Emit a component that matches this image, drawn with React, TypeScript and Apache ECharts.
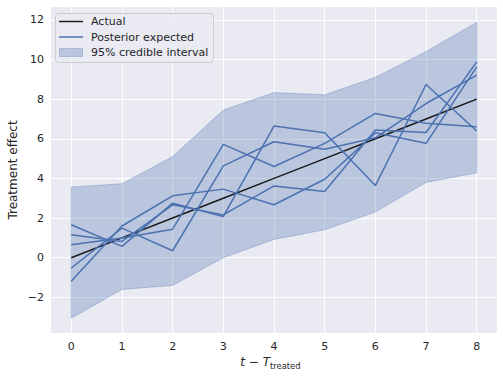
import React, { useEffect, useRef } from "react";
import * as echarts from "echarts";

const xValues = [0, 1, 2, 3, 4, 5, 6, 7, 8];
const actual = [0, 1, 2, 3, 4, 5, 6, 7, 8];
const posteriorA = [-1.19, 1.6, 3.12, 3.46, 2.67, 3.96, 6.3, 5.77, 9.63];
const posteriorB = [-0.52, 1.49, 0.35, 4.63, 5.85, 5.47, 6.05, 7.78, 9.21];
const posteriorC = [1.66, 0.57, 2.75, 2.08, 6.64, 6.31, 3.64, 8.74, 6.39];
const posteriorD = [1.16, 0.82, 2.67, 2.16, 3.62, 3.34, 6.44, 6.32, 9.88];
const posteriorE = [0.65, 0.99, 1.44, 5.72, 4.6, 5.77, 7.28, 6.78, 6.61];
const bandLower = [-3.05, -1.6, -1.4, 0.0, 0.92, 1.41, 2.3, 3.8, 4.28];
const bandUpper = [3.57, 3.73, 5.1, 7.45, 8.33, 8.22, 9.1, 10.4, 11.88];
const xTicks = [0, 1, 2, 3, 4, 5, 6, 7, 8];
const yTicks = [-2, 0, 2, 4, 6, 8, 10, 12];

const BLUE = "#4c72b0";
const BAND = "rgba(76,114,176,0.3)";
const TEXT = "#262626";
const FONT = "DejaVu Sans";

const pairs = (ys: number[]) => xValues.map((x, i) => [x, ys[i]]);

export default function App() {
  const ref = useRef<HTMLDivElement>(null);
  useEffect(() => {
    if (!ref.current) return;
    const chart = echarts.init(ref.current, undefined, { renderer: "svg" });
    const posteriors = [posteriorA, posteriorB, posteriorC, posteriorD, posteriorE];
    const lineSeries = (data: number[][], color: string, name: string) => ({
      type: "line",
      name,
      data,
      symbol: "none",
      silent: true,
      lineStyle: { color, width: 1.5 },
      itemStyle: { color },
    });
    chart.setOption({
      animation: false,
      backgroundColor: "#ffffff",
      grid: { left: 51, right: 6, top: 7, bottom: 46, backgroundColor: "#eaeaf2", show: true, borderWidth: 0 },
      xAxis: {
        type: "value",
        min: -0.4,
        max: 8.4,
        axisLine: { show: false },
        axisTick: { show: false, customValues: xTicks },
        axisLabel: { customValues: xTicks, color: TEXT, fontFamily: FONT, fontSize: 11, margin: 8 },
        splitLine: { show: true, lineStyle: { color: "#ffffff", width: 1 } },
      },
      yAxis: {
        type: "value",
        min: -3.8,
        max: 12.65,
        axisLine: { show: false },
        axisTick: { show: false, customValues: yTicks },
        axisLabel: {
          customValues: yTicks,
          color: TEXT,
          fontFamily: FONT,
          fontSize: 11,
          margin: 7,
          formatter: (v: number) => String(v).replace("-", "\u2212"),
        },
        splitLine: { show: true, lineStyle: { color: "#ffffff", width: 1 } },
      },
      series: [
        lineSeries(pairs(actual), "#1a1a1a", "Actual"),
        ...posteriors.map((p) => lineSeries(pairs(p), BLUE, "Posterior expected")),
        {
          type: "custom",
          name: "95% credible interval",
          silent: true,
          data: [[0, 0]],
          encode: { x: 0, y: 1 },
          renderItem: (_params: any, api: any) => {
            const top = xValues.map((x, i) => api.coord([x, bandUpper[i]]));
            const bottom = xValues.map((x, i) => api.coord([x, bandLower[i]])).reverse();
            return {
              type: "polygon",
              shape: { points: top.concat(bottom) },
              style: { fill: BAND, stroke: BAND, lineWidth: 1 },
            };
          },
        },
      ],
      graphic: [
        {
          type: "rect",
          shape: { x: 55.5, y: 13.5, width: 158, height: 49, r: 3 },
          style: { fill: "rgba(234,234,242,0.8)", stroke: "#cccccc", lineWidth: 1 },
          z: 100,
        },
        {
          type: "line",
          shape: { x1: 59, y1: 21.5, x2: 83, y2: 21.5 },
          style: { stroke: "#1a1a1a", lineWidth: 1.5 },
          z: 101,
        },
        {
          type: "line",
          shape: { x1: 59, y1: 37, x2: 83, y2: 37 },
          style: { stroke: BLUE, lineWidth: 1.5 },
          z: 101,
        },
        {
          type: "rect",
          shape: { x: 59.5, y: 48.5, width: 23, height: 8 },
          style: { fill: BAND, stroke: BAND, lineWidth: 1 },
          z: 101,
        },
        {
          type: "text",
          x: 91,
          y: 21.5,
          style: { text: "Actual", fill: TEXT, font: `11px "${FONT}"`, verticalAlign: "middle" },
          z: 101,
        },
        {
          type: "text",
          x: 91,
          y: 37,
          style: { text: "Posterior expected", fill: TEXT, font: `11px "${FONT}"`, verticalAlign: "middle" },
          z: 101,
        },
        {
          type: "text",
          x: 91,
          y: 52.5,
          style: { text: "95% credible interval", fill: TEXT, font: `11px "${FONT}"`, verticalAlign: "middle" },
          z: 101,
        },
        {
          type: "text",
          x: 13,
          y: 170,
          rotation: Math.PI / 2,
          style: { text: "Treatment effect", fill: TEXT, font: `12px "${FONT}"`, align: "center", verticalAlign: "middle" },
        },
        {
          type: "text",
          x: 270,
          y: 362,
          style: { text: "t \u2212 T", fill: TEXT, font: `italic 12px "${FONT}"`, align: "right", verticalAlign: "middle" },
        },
        {
          type: "text",
          x: 270,
          y: 366,
          style: { text: "treated", fill: TEXT, font: `8.4px "${FONT}"`, align: "left", verticalAlign: "middle" },
        },
      ],
    });
    return () => chart.dispose();
  }, []);
  return <div ref={ref} style={{ width: 503, height: 379, position: "absolute", left: 0, top: 0 }} />;
}
